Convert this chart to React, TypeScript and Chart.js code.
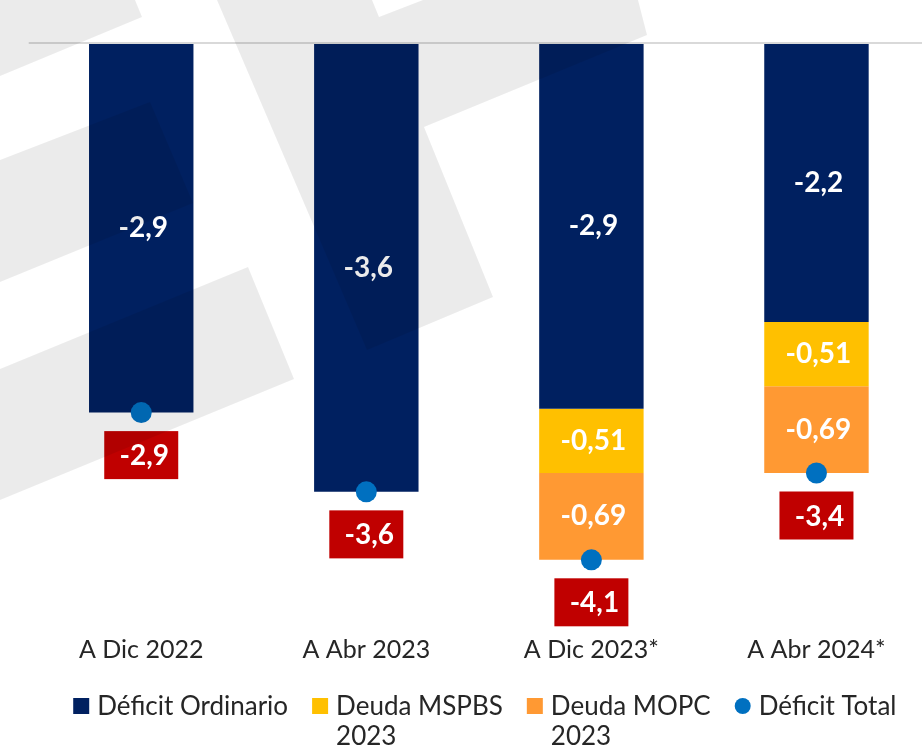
import React, { useEffect, useRef } from 'react';
import { Chart, registerables } from 'chart.js';

Chart.register(...registerables);

// ---- data ----
const categories = ['A Dic 2022', 'A Abr 2023', 'A Dic 2023*', 'A Abr 2024*'];
const deficitOrdinario = [-2.93, -3.56, -2.9, -2.21];
const deudaMSPBS = [null, null, -0.51, -0.51];
const deudaMOPC = [null, null, -0.69, -0.69];
const deficitTotal = [-2.93, -3.56, -4.1, -3.41];
const seriesNames = ['Déficit Ordinario', 'Deuda MSPBS 2023', 'Deuda MOPC 2023', 'Déficit Total'];
const legendLines = [['Déficit Ordinario'], ['Deuda MSPBS', '2023'], ['Deuda MOPC', '2023'], ['Déficit Total']];
const labelDecimals = [1, 2, 2, 1];
const yMin = -4.65;
const yMax = 0;

// ---- styles ----
const NAVY = '#002060';
const YELLOW = '#FFC000';
const ORANGE = '#FF9933';
const BLUE = '#0070C0';
const RED = '#C00000';
const TEXT = '#262626';
const FONT = 'Lato';
const CANVAS_W = 929;
const CANVAS_H = 747;

const fmt = (v: number, d: number) => v.toFixed(d).replace('.', ',');

const zeroLinePlugin = {
  id: 'zeroLine',
  beforeDatasetsDraw(chart: any) {
    const { ctx, chartArea, scales } = chart;
    const y = scales.y.getPixelForValue(0);
    ctx.save();
    ctx.strokeStyle = '#D9D9D9';
    ctx.lineWidth = 2;
    ctx.beginPath();
    ctx.moveTo(chartArea.left, y - 1);
    ctx.lineTo(chartArea.right, y - 1);
    ctx.stroke();
    ctx.restore();
  },
};

const valueLabelPlugin = {
  id: 'valueLabels',
  afterDatasetsDraw(chart: any) {
    const { ctx } = chart;
    ctx.save();
    ctx.font = `bold 28px ${FONT}`;
    ctx.textAlign = 'center';
    ctx.textBaseline = 'middle';
    for (let di = 0; di < 3; di++) {
      const meta = chart.getDatasetMeta(di);
      const data = chart.data.datasets[di].data;
      meta.data.forEach((el: any, i: number) => {
        const v = data[i];
        if (v === null || v === undefined) return;
        const p = el.getProps(['x', 'y', 'base'], true);
        ctx.fillStyle = '#FFFFFF';
        ctx.fillText(fmt(v, labelDecimals[di]), p.x + 2, (p.y + p.base) / 2);
      });
    }
    const meta = chart.getDatasetMeta(3);
    const data = chart.data.datasets[3].data;
    meta.data.forEach((el: any, i: number) => {
      const v = data[i];
      if (v === null || v === undefined) return;
      const p = el.getProps(['x', 'y'], true);
      const w = 74;
      const h = 48;
      const top = p.y + 18.5;
      ctx.fillStyle = RED;
      ctx.fillRect(p.x - w / 2, top, w, h);
      ctx.fillStyle = '#FFFFFF';
      ctx.fillText(fmt(v, labelDecimals[3]), p.x + 3, top + h / 2 + 1);
    });
    ctx.restore();
  },
};

const legendPlugin = {
  id: 'customLegend',
  afterDraw(chart: any) {
    const { ctx, chartArea } = chart;
    ctx.save();
    ctx.font = `26px ${FONT}`;
    ctx.textBaseline = 'alphabetic';
    ctx.textAlign = 'left';
    const box = 16;
    const gapBoxText = 8;
    const gapItems = 24;
    const widths = legendLines.map((lines) => Math.max(...lines.map((l) => ctx.measureText(l).width)));
    const total = widths.reduce((a, w) => a + box + gapBoxText + w, 0) + gapItems * (widths.length - 1);
    const centerX = (chartArea.left + chartArea.right) / 2 + 6;
    let x = centerX - total / 2;
    const baseline = 715;
    const lineH = 30;
    chart.data.datasets.forEach((ds: any, i: number) => {
      const color = i === 3 ? ds.pointBackgroundColor : ds.backgroundColor;
      ctx.fillStyle = color;
      if (i === 3) {
        ctx.beginPath();
        ctx.arc(x + box / 2, 706, 8, 0, Math.PI * 2);
        ctx.fill();
      } else {
        ctx.fillRect(x, 698, box, box);
      }
      ctx.fillStyle = TEXT;
      legendLines[i].forEach((line, li) => {
        ctx.fillText(line, x + box + gapBoxText, baseline + li * lineH);
      });
      x += box + gapBoxText + widths[i] + gapItems;
    });
    ctx.restore();
  },
};

// decorative background watermark (translucent overlay, as in the source image)
const watermarkPlugin = {
  id: 'watermark',
  afterDraw(chart: any) {
    const { ctx } = chart;
    const polys = [
      [[0, 0], [135, 0], [142, 17], [0, 76]],
      [[0, 160], [150, 102], [193, 203], [0, 282]],
      [[0, 369], [248, 267], [294, 379], [0, 500]],
      [[217, 0], [372, 0], [379, 17], [423, 0], [638, 0], [647, 35], [424, 127], [493, 297], [367, 350]],
    ];
    ctx.save();
    ctx.fillStyle = 'rgba(0,0,0,0.078)';
    polys.forEach((poly) => {
      ctx.beginPath();
      poly.forEach(([px, py], k) => (k === 0 ? ctx.moveTo(px, py) : ctx.lineTo(px, py)));
      ctx.closePath();
      ctx.fill();
    });
    ctx.restore();
  },
};

export default function App() {
  const canvasRef = useRef<HTMLCanvasElement | null>(null);

  useEffect(() => {
    let chart: Chart | null = null;
    let cancelled = false;
    const create = () => {
      if (cancelled || !canvasRef.current) return;
      chart = new Chart(canvasRef.current, {
        type: 'bar',
        data: {
          labels: categories,
          datasets: [
            { type: 'bar', label: seriesNames[0], data: deficitOrdinario, backgroundColor: NAVY, stack: 'bars', order: 1 },
            { type: 'bar', label: seriesNames[1], data: deudaMSPBS, backgroundColor: YELLOW, stack: 'bars', order: 1 },
            { type: 'bar', label: seriesNames[2], data: deudaMOPC, backgroundColor: ORANGE, stack: 'bars', order: 1 },
            {
              type: 'line',
              label: seriesNames[3],
              data: deficitTotal,
              showLine: false,
              pointRadius: 10.5,
              pointHoverRadius: 10.5,
              pointBackgroundColor: BLUE,
              pointBorderWidth: 0,
              borderColor: BLUE,
              backgroundColor: BLUE,
              stack: 'total',
              order: 0,
            } as any,
          ],
        },
        options: {
          responsive: false,
          maintainAspectRatio: false,
          animation: false,
          events: [],
          devicePixelRatio: 1,
          layout: { autoPadding: false, padding: { left: 28.7, right: 0, top: 44, bottom: 76 } },
          datasets: {
            bar: { barPercentage: 0.464, categoryPercentage: 1, borderWidth: 0 },
          },
          plugins: {
            legend: { display: false },
            tooltip: { enabled: false },
            title: { display: false },
          },
          scales: {
            x: {
              stacked: true,
              grid: { display: false, drawTicks: false },
              border: { display: false },
              ticks: {
                font: { family: FONT, size: 25 },
                color: TEXT,
                padding: 6,
                maxRotation: 0,
                autoSkip: false,
              },
              afterFit: (scale: any) => {
                scale.paddingLeft = 0;
                scale.paddingRight = 0;
              },
            },
            y: {
              stacked: true,
              display: false,
              min: yMin,
              max: yMax,
            },
          },
        } as any,
        plugins: [zeroLinePlugin, valueLabelPlugin, legendPlugin, watermarkPlugin],
      });
    };
    const fontsReady = (document as any).fonts
      ? Promise.all([
          (document as any).fonts.load(`25px ${FONT}`),
          (document as any).fonts.load(`bold 28px ${FONT}`),
        ]).catch(() => null)
      : Promise.resolve(null);
    fontsReady.then(create);
    return () => {
      cancelled = true;
      if (chart) chart.destroy();
    };
  }, []);

  return (
    <div
      style={{
        position: 'fixed',
        left: 0,
        top: 0,
        width: 922,
        height: CANVAS_H,
        overflow: 'hidden',
        background: '#ffffff',
      }}
    >
      <div style={{ width: CANVAS_W, height: CANVAS_H }}>
        <canvas
          ref={canvasRef}
          width={CANVAS_W}
          height={CANVAS_H}
          style={{ display: 'block', width: CANVAS_W, height: CANVAS_H }}
        />
      </div>
    </div>
  );
}
